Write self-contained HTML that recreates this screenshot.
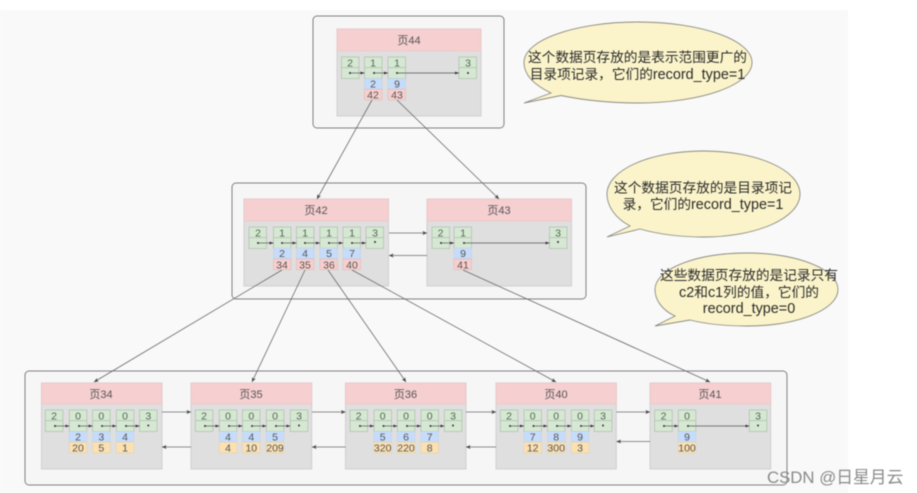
<!DOCTYPE html>
<html><head><meta charset="utf-8">
<style>
html,body{margin:0;padding:0;background:#fff;width:917px;height:493px;overflow:hidden}
svg{display:block;filter:blur(.5px)}
text{font-family:"Liberation Sans","Noto Sans CJK SC",sans-serif}
.n{font-size:10.5px;fill:#555;text-anchor:middle}
.g{font-size:10.5px;fill:#4f6a4f;text-anchor:middle}
.h{font-size:11px;fill:#555;text-anchor:middle}
.t{font-size:13.7px;fill:#2a2a2a;text-anchor:middle}
.t tspan{font-size:14.4px}
.o{fill:#f6f6f7;stroke:#808080;stroke-width:1}
.p{fill:#dfdfdf;stroke:#d0d0d0;stroke-width:1}
.hd{fill:#f6cfd0;stroke:#e8c6c6;stroke-width:.7}
.l{stroke:#6a6a6a;stroke-width:.8;fill:none;marker-end:url(#a)}
.k{stroke:#555;stroke-width:.7;fill:none;marker-end:url(#s)}
.b{fill:#fbf4ca;stroke:#8a8a80;stroke-width:.9}
</style></head><body>
<svg width="917" height="493" viewBox="0 0 917 493" xmlns="http://www.w3.org/2000/svg">
<defs>
<marker id="a" markerUnits="userSpaceOnUse" markerWidth="6" markerHeight="6" refX="4.500" refY="3" orient="auto"><path d="M0 1L4.500 3L0 5L1 3Z" fill="#444"/></marker>
<marker id="s" markerUnits="userSpaceOnUse" markerWidth="5" markerHeight="4" refX="4" refY="2" orient="auto"><path d="M0 .6L4 2L0 3.400Z" fill="#333"/></marker>
<g id="c"><rect width="17.5" height="21.5" fill="#d6e8d3" stroke="#a9c0a7" stroke-width=".7"/><path d="M0 10.6H17.5" stroke="#a9c0a7" stroke-width=".7"/></g>
<rect id="bl" width="17.5" height="10.7" fill="#c6dcfb" stroke="#c0cfe0" stroke-width=".5"/>
<rect id="rd" width="17.5" height="10.7" fill="#f8cfcd" stroke="#dcb5b5" stroke-width=".5"/>
<rect id="or" width="17.5" height="10.7" fill="#fbe0b2" stroke="#e3cfa5" stroke-width=".5"/>
<circle id="d" r="1" fill="#333"/>
</defs>
<rect width="917" height="493" fill="#fff"/>
<rect x="0" y="10" width="848" height="483" fill="#f9f9fa"/>

<!-- outer -->
<rect class="o" x="313" y="16" width="191" height="112" rx="4"/>
<rect class="o" x="232" y="183" width="354" height="116" rx="4"/>
<rect class="o" x="25" y="371" width="762" height="114" rx="4"/>

<!-- page 44 -->
<rect class="p" x="337" y="29" width="144" height="87"/><rect class="hd" x="337" y="29" width="144" height="22"/>
<text class="h" x="409" y="44">页44</text>
<use href="#c" x="341.5" y="57"/><use href="#c" x="364.5" y="57"/><use href="#c" x="388" y="57"/><use href="#c" x="459" y="57"/>
<use href="#bl" x="364.5" y="78.5"/><use href="#rd" x="364.5" y="89.2"/><use href="#bl" x="388" y="78.5"/><use href="#rd" x="388" y="89.2"/>
<text class="g" x="350" y="66.5">2</text><text class="g" x="373" y="66.5">1</text><text class="g" x="397" y="66.5">1</text><text class="g" x="468" y="66.5">3</text>
<text class="n" x="373" y="87.5">2</text><text class="n" x="373" y="98.500">42</text><text class="n" x="397" y="87.5">9</text><text class="n" x="397" y="98.500">43</text>
<path class="k" d="M350 73H364.5"/><path class="k" d="M374 73H388"/><path class="k" d="M397 73H459"/>
<use href="#d" x="350" y="73"/><use href="#d" x="374" y="73"/><use href="#d" x="397" y="73"/><use href="#d" x="468" y="73"/>

<!-- page 42 -->
<rect class="p" x="244" y="199" width="144.500" height="87"/><rect class="hd" x="244" y="199" width="144.500" height="22"/>
<text class="h" x="316" y="214">页42</text>
<use href="#c" x="249" y="227"/><use href="#c" x="273.500" y="227"/><use href="#c" x="296.500" y="227"/><use href="#c" x="320" y="227"/><use href="#c" x="343" y="227"/><use href="#c" x="366" y="227"/>
<use href="#bl" x="273.500" y="248"/><use href="#rd" x="273.500" y="259"/><use href="#bl" x="296.500" y="248"/><use href="#rd" x="296.500" y="259"/><use href="#bl" x="320" y="248"/><use href="#rd" x="320" y="259"/><use href="#bl" x="343" y="248"/><use href="#rd" x="343" y="259"/>
<text class="g" x="258" y="236.500">2</text><text class="g" x="282" y="236.500">1</text><text class="g" x="305" y="236.500">1</text><text class="g" x="329" y="236.500">1</text><text class="g" x="352" y="236.500">1</text><text class="g" x="375" y="236.500">3</text>
<text class="n" x="282" y="257">2</text><text class="n" x="282" y="268.500">34</text><text class="n" x="305" y="257">4</text><text class="n" x="305" y="268.500">35</text><text class="n" x="329" y="257">5</text><text class="n" x="329" y="268.500">36</text><text class="n" x="352" y="257">7</text><text class="n" x="352" y="268.500">40</text>
<path class="k" d="M258 243H273.500"/><path class="k" d="M282 243H296.500"/><path class="k" d="M305 243H320"/><path class="k" d="M329 243H343"/><path class="k" d="M352 243H366"/>
<use href="#d" x="258" y="243"/><use href="#d" x="282" y="243"/><use href="#d" x="305" y="243"/><use href="#d" x="329" y="243"/><use href="#d" x="352" y="243"/><use href="#d" x="375" y="242"/>

<!-- page 43 -->
<rect class="p" x="427" y="199" width="144.500" height="87"/><rect class="hd" x="427" y="199" width="144.500" height="22"/>
<text class="h" x="499" y="214">页43</text>
<use href="#c" x="432" y="227"/><use href="#c" x="454" y="227"/><use href="#c" x="549.500" y="227"/>
<use href="#bl" x="454" y="248"/><use href="#rd" x="454" y="259"/>
<text class="g" x="440.500" y="236.500">2</text><text class="g" x="463" y="236.500">1</text><text class="g" x="558" y="236.500">3</text>
<text class="n" x="463" y="257">9</text><text class="n" x="463" y="268.500">41</text>
<path class="k" d="M441 243H454"/><path class="k" d="M464 243H549.500"/>
<use href="#d" x="441" y="243"/><use href="#d" x="464" y="243"/><use href="#d" x="558" y="242"/>

<!-- page 34 -->
<rect class="p" x="41.500" y="383" width="120.500" height="86"/><rect class="hd" x="41.500" y="383" width="120.500" height="21"/>
<text class="h" x="101" y="398">页34</text>
<use href="#c" x="45.300" y="410"/><use href="#c" x="69.300" y="410"/><use href="#c" x="92.600" y="410"/><use href="#c" x="116.300" y="410"/><use href="#c" x="139.600" y="410"/>
<use href="#bl" x="69.300" y="431.500"/><use href="#or" x="69.300" y="442.200"/><use href="#bl" x="92.600" y="431.500"/><use href="#or" x="92.600" y="442.200"/><use href="#bl" x="116.300" y="431.500"/><use href="#or" x="116.300" y="442.200"/>
<text class="g" x="54" y="419.500">2</text><text class="g" x="78" y="419.500">0</text><text class="g" x="101.300" y="419.500">0</text><text class="g" x="125" y="419.500">0</text><text class="g" x="148.300" y="419.500">3</text>
<text class="n" x="78" y="440.500">2</text><text class="n" x="78" y="451.500">20</text><text class="n" x="101.300" y="440.500">3</text><text class="n" x="101.300" y="451.500">5</text><text class="n" x="125" y="440.500">4</text><text class="n" x="125" y="451.500">1</text>
<path class="k" d="M55 426H69.300"/><path class="k" d="M79 426H92.600"/><path class="k" d="M102 426H116.300"/><path class="k" d="M126 426H139.600"/>
<use href="#d" x="55" y="426"/><use href="#d" x="79" y="426"/><use href="#d" x="102" y="426"/><use href="#d" x="126" y="426"/><use href="#d" x="148.300" y="425.500"/>

<!-- page 35 -->
<rect class="p" x="191" y="383" width="120.700" height="86"/><rect class="hd" x="191" y="383" width="120.700" height="21"/>
<text class="h" x="251" y="398">页35</text>
<use href="#c" x="195.300" y="410"/><use href="#c" x="219.300" y="410"/><use href="#c" x="242.500" y="410"/><use href="#c" x="266.300" y="410"/><use href="#c" x="290.300" y="410"/>
<use href="#bl" x="219.300" y="431.500"/><use href="#or" x="219.300" y="442.200"/><use href="#bl" x="242.500" y="431.500"/><use href="#or" x="242.500" y="442.200"/><use href="#bl" x="266.300" y="431.500"/><use href="#or" x="266.300" y="442.200"/>
<text class="g" x="204" y="419.500">2</text><text class="g" x="228" y="419.500">0</text><text class="g" x="251.300" y="419.500">0</text><text class="g" x="275" y="419.500">0</text><text class="g" x="299" y="419.500">3</text>
<text class="n" x="228" y="440.500">4</text><text class="n" x="228" y="451.500">4</text><text class="n" x="251.300" y="440.500">4</text><text class="n" x="251.300" y="451.500">10</text><text class="n" x="275" y="440.500">5</text><text class="n" x="275" y="451.500">209</text>
<path class="k" d="M205 426H219.300"/><path class="k" d="M229 426H242.500"/><path class="k" d="M252 426H266.300"/><path class="k" d="M276 426H290.300"/>
<use href="#d" x="205" y="426"/><use href="#d" x="229" y="426"/><use href="#d" x="252" y="426"/><use href="#d" x="276" y="426"/><use href="#d" x="299" y="425.500"/>

<!-- page 36 -->
<rect class="p" x="345.500" y="383" width="120.500" height="86"/><rect class="hd" x="345.500" y="383" width="120.500" height="21"/>
<text class="h" x="405.500" y="398">页36</text>
<use href="#c" x="350" y="410"/><use href="#c" x="374" y="410"/><use href="#c" x="397.300" y="410"/><use href="#c" x="421" y="410"/><use href="#c" x="444.300" y="410"/>
<use href="#bl" x="374" y="431.500"/><use href="#or" x="374" y="442.200"/><use href="#bl" x="397.300" y="431.500"/><use href="#or" x="397.300" y="442.200"/><use href="#bl" x="421" y="431.500"/><use href="#or" x="421" y="442.200"/>
<text class="g" x="358.700" y="419.500">2</text><text class="g" x="382.700" y="419.500">0</text><text class="g" x="406" y="419.500">0</text><text class="g" x="429.700" y="419.500">0</text><text class="g" x="453" y="419.500">3</text>
<text class="n" x="382.700" y="440.500">5</text><text class="n" x="382.700" y="451.500">320</text><text class="n" x="406" y="440.500">6</text><text class="n" x="406" y="451.500">220</text><text class="n" x="429.700" y="440.500">7</text><text class="n" x="429.700" y="451.500">8</text>
<path class="k" d="M360 426H374"/><path class="k" d="M383.500 426H397.300"/><path class="k" d="M407 426H421"/><path class="k" d="M430.500 426H444.300"/>
<use href="#d" x="360" y="426"/><use href="#d" x="383.500" y="426"/><use href="#d" x="407" y="426"/><use href="#d" x="430.500" y="426"/><use href="#d" x="453" y="425.500"/>

<!-- page 40 -->
<rect class="p" x="496" y="383" width="120.300" height="86"/><rect class="hd" x="496" y="383" width="120.300" height="21"/>
<text class="h" x="556" y="398">页40</text>
<use href="#c" x="500.300" y="410"/><use href="#c" x="524" y="410"/><use href="#c" x="547.500" y="410"/><use href="#c" x="571.300" y="410"/><use href="#c" x="594.300" y="410"/>
<use href="#bl" x="524" y="431.500"/><use href="#or" x="524" y="442.200"/><use href="#bl" x="547.500" y="431.500"/><use href="#or" x="547.500" y="442.200"/><use href="#bl" x="571.300" y="431.500"/><use href="#or" x="571.300" y="442.200"/>
<text class="g" x="509" y="419.500">2</text><text class="g" x="532.700" y="419.500">0</text><text class="g" x="556.200" y="419.500">0</text><text class="g" x="580" y="419.500">0</text><text class="g" x="603" y="419.500">3</text>
<text class="n" x="532.700" y="440.500">7</text><text class="n" x="532.700" y="451.500">12</text><text class="n" x="556.200" y="440.500">8</text><text class="n" x="556.200" y="451.500">300</text><text class="n" x="580" y="440.500">9</text><text class="n" x="580" y="451.500">3</text>
<path class="k" d="M510 426H524"/><path class="k" d="M533.500 426H547.500"/><path class="k" d="M557 426H571.300"/><path class="k" d="M581 426H594.300"/>
<use href="#d" x="510" y="426"/><use href="#d" x="533.500" y="426"/><use href="#d" x="557" y="426"/><use href="#d" x="581" y="426"/><use href="#d" x="603" y="425.500"/>

<!-- page 41 -->
<rect class="p" x="650" y="383" width="120.700" height="86"/><rect class="hd" x="650" y="383" width="120.700" height="21"/>
<text class="h" x="710" y="398">页41</text>
<use href="#c" x="654.700" y="410"/><use href="#c" x="678.300" y="410"/><use href="#c" x="749.300" y="410"/>
<use href="#bl" x="678.300" y="431.500"/><use href="#or" x="678.300" y="442.200"/>
<text class="g" x="663.500" y="419.500">2</text><text class="g" x="687" y="419.500">0</text><text class="g" x="758" y="419.500">3</text>
<text class="n" x="687" y="440.500">9</text><text class="n" x="687" y="451.500">100</text>
<path class="k" d="M664 426H678.300"/><path class="k" d="M688 426H749.300"/>
<use href="#d" x="664" y="426"/><use href="#d" x="688" y="426"/><use href="#d" x="758" y="425.500"/>

<!-- connectors -->
<path class="l" d="M372 100L317 199"/>
<path class="l" d="M397 100L499 199"/>
<path class="l" d="M282 270L94 382"/>
<path class="l" d="M305 270L252 382"/>
<path class="l" d="M328 270L406 382"/>
<path class="l" d="M352 270L556 382"/>
<path class="l" d="M463 270L710 382"/>
<path class="l" d="M389 233H427"/><path class="l" d="M427 255.500H389"/>
<path class="l" d="M162 412H191"/><path class="l" d="M191 447H162"/>
<path class="l" d="M312 412H345.500"/><path class="l" d="M345.500 447H312"/>
<path class="l" d="M466 412H496"/><path class="l" d="M496 447H466"/>
<path class="l" d="M616.500 412H650"/><path class="l" d="M650 441.500H616.500"/>

<!-- callouts -->
<path class="b" d="M551 93C532 84 524 74 524 62.500C524 40 575 22 638 22C701 22 752 40 752 62.500C752 85 701 103 638 103C610 103 583 100 561 95.500L524 103Z"/>
<text class="t" x="637.500" y="62">这个数据页存放的是表示范围更广的</text>
<text class="t" x="637.500" y="79">目录项记录，它们的<tspan>record_type=1</tspan></text>

<path class="b" d="M630 226C615 218 607 206 607 194C607 170 650 151 703.500 151C757 151 800 170 800 194C800 218 757 237 703.500 237C680 237 658 234 640 229L607 237Z"/>
<text class="t" x="703" y="192.500">这个数据页存放的是目录项记</text>
<text class="t" x="703" y="209">录，它们的<tspan>record_type=1</tspan></text>

<path class="b" d="M675 316C662 310 655 300 655 289.500C655 269 696 253 746.500 253C797 253 838 269 838 289.500C838 310 797 326 746.500 326C725 326 706 324 690 320L655 326Z"/>
<text class="t" x="749" y="280">这些数据页存放的是记录只有</text>
<text class="t" x="749" y="297"><tspan>c2</tspan>和<tspan>c1</tspan>列的值，它们的</text>
<text class="t" x="749" y="313"><tspan>record_type=0</tspan></text>

<text x="767" y="483" style="font-size:16.800px;fill:#8a8a8a">CSDN @日星月云</text>
</svg>
</body></html>
